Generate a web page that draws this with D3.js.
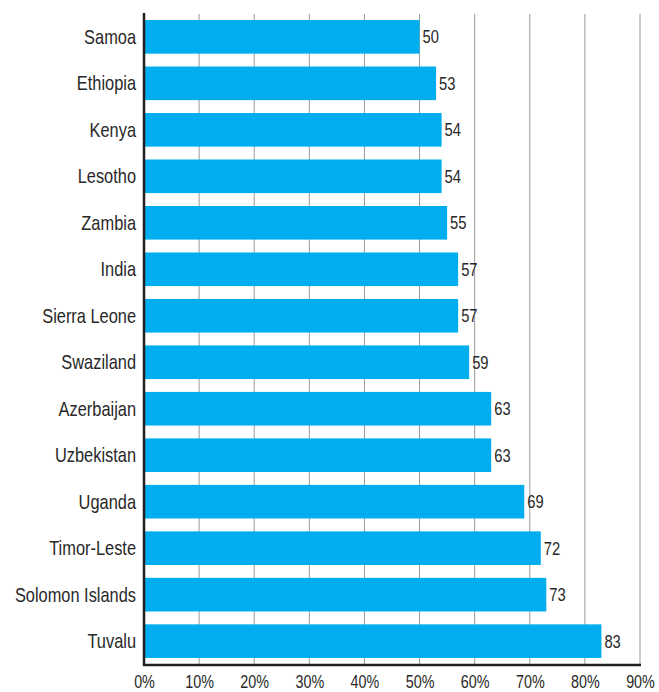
<!DOCTYPE html>
<html>
<head>
<meta charset="utf-8">
<script src="https://cdn.jsdelivr.net/npm/d3@7"></script>
<style>
  html, body { margin: 0; padding: 0; background: #fff; }
  svg { display: block; }
  text { font-family: "Liberation Sans Narrow", "Liberation Sans", Arial, sans-serif; fill: #282828; }
</style>
</head>
<body>
<svg id="chart" width="659" height="692"></svg>
<script>
const countries = ["Samoa","Ethiopia","Kenya","Lesotho","Zambia","India","Sierra Leone","Swaziland","Azerbaijan","Uzbekistan","Uganda","Timor-Leste","Solomon Islands","Tuvalu"];
const values = [50,53,54,54,55,57,57,59,63,63,69,72,73,83];
const tickValues = [0,10,20,30,40,50,60,70,80,90];

const narrow = "scale(0.82,1)";
const svg = d3.select("#chart");
const x = d3.scaleLinear().domain([0, 90]).range([144, 640]);
const y = d3.scaleBand().domain(countries).range([14, 664]).paddingInner(0.277).paddingOuter(0.13);

// gridlines
svg.append("g").selectAll("line").data(tickValues.slice(1)).join("line")
  .attr("x1", d => x(d)).attr("x2", d => x(d))
  .attr("y1", 14).attr("y2", 665)
  .attr("stroke", "#9a9a9a").attr("stroke-width", 1);

// bars
svg.append("g").selectAll("rect").data(countries).join("rect")
  .attr("x", x(0))
  .attr("y", d => y(d))
  .attr("width", (d, i) => x(values[i]) - x(0))
  .attr("height", y.bandwidth())
  .attr("fill", "#00aeef");

// value labels
svg.append("g").selectAll("g").data(countries).join("g")
  .attr("transform", (d, i) => `translate(${x(values[i]) + 3},${y(d) + y.bandwidth() / 2})`)
  .append("text")
  .attr("transform", narrow)
  .attr("dy", "0.36em")
  .attr("font-size", 18)
  .text((d, i) => values[i]);

// category labels
svg.append("g").selectAll("g").data(countries).join("g")
  .attr("transform", d => `translate(136,${y(d) + y.bandwidth() / 2})`)
  .append("text")
  .attr("transform", narrow)
  .attr("dy", "0.35em")
  .attr("text-anchor", "end")
  .attr("font-size", 20)
  .text(d => d);

// bottom axis
const xAxis = d3.axisBottom(x).tickValues(tickValues).tickSize(0).tickPadding(11).tickFormat(d => d + "%");
const gx = svg.append("g").attr("transform", "translate(0,665)").call(xAxis);
gx.select(".domain").remove();
gx.selectAll("text").attr("font-size", 17.5).attr("fill", "#282828").attr("transform", narrow).style("font-family", null);
gx.attr("font-family", null);

// axis lines
svg.append("line").attr("x1", 144).attr("x2", 144).attr("y1", 13).attr("y2", 666)
  .attr("stroke", "#231f20").attr("stroke-width", 2.5);
svg.append("line").attr("x1", 143).attr("x2", 641).attr("y1", 665).attr("y2", 665)
  .attr("stroke", "#231f20").attr("stroke-width", 2.5);
</script>
</body>
</html>
